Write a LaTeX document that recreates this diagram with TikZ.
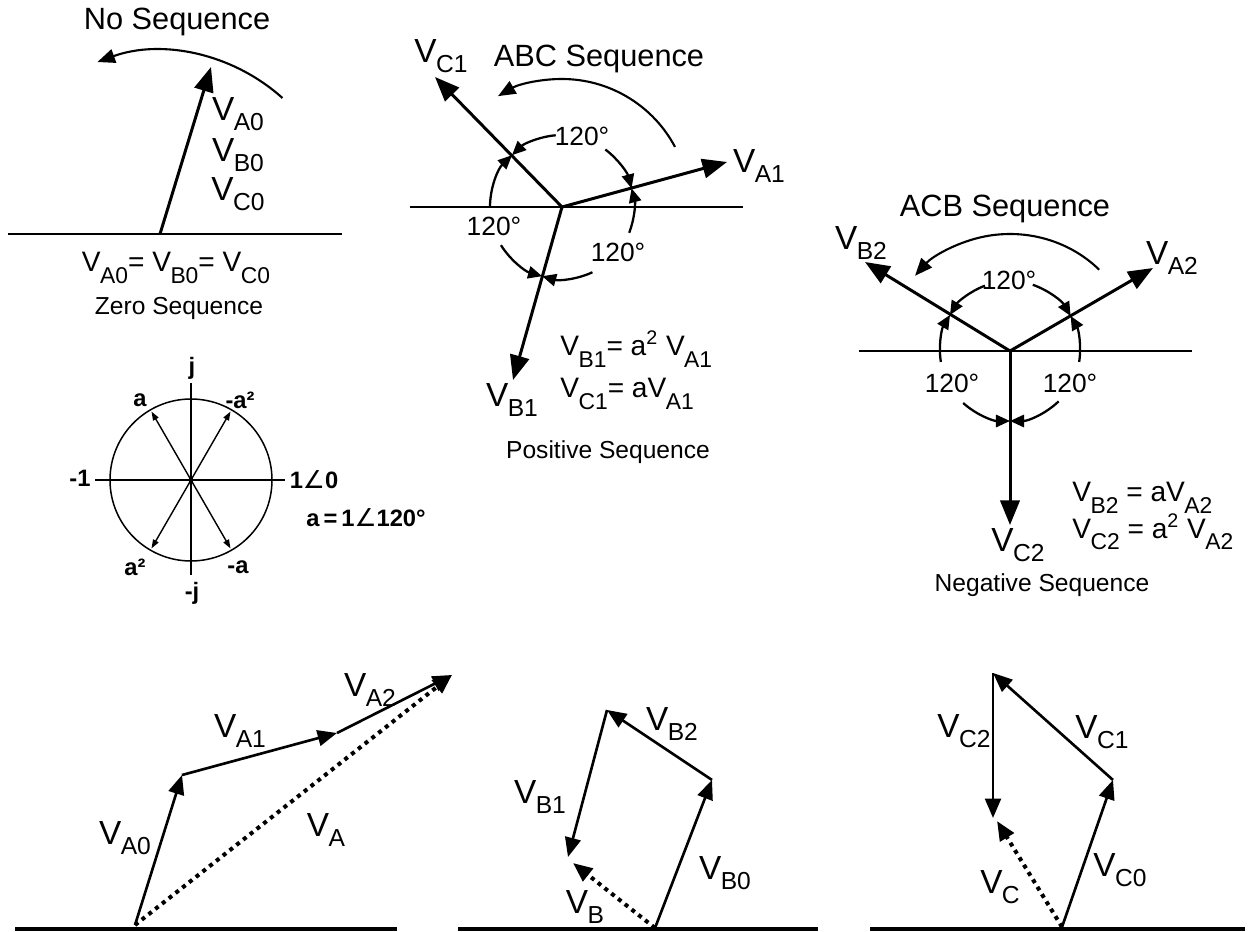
\documentclass[tikz,border=0pt]{standalone}
\usepackage{fontspec}
\setmainfont{Liberation Sans}
\newfontfamily\angfont{DejaVu Sans}
\usepackage{tikz}
\usetikzlibrary{arrows.meta}
\newcommand{\Vs}[1]{V\kern-0.3pt\raisebox{-5.5pt}{\fontsize{14}{16}\selectfont #1}}
\newcommand{\Ve}[1]{V\kern-0.3pt\raisebox{-6.5pt}{\fontsize{13}{15}\selectfont #1}}
\newcommand{\angsym}{{\angfont\mdseries\fontsize{14}{16}\selectfont ∠}}

\begin{document}
\begin{tikzpicture}[
    x=0.02cm, y=0.02cm,
    every node/.style={inner sep=0pt},
    vlbl/.style={font=\fontsize{19}{22}\selectfont},
    eqlbl/.style={font=\fontsize{16}{19}\selectfont, anchor=west},
    seqlbl/.style={font=\fontsize{17.5}{20}\selectfont},
    caplbl/.style={font=\fontsize{14}{16}\selectfont},
    deglbl/.style={font=\fontsize{15}{18}\selectfont},
    ulbl/.style={font=\bfseries\fontsize{13.5}{16}\selectfont},
    refline/.style={line width=1.3pt},
    ground/.style={line width=2.2pt},
    phasor/.style={-{Triangle[length=14pt,width=11pt]}, line width=1.7pt},
    sumvec/.style={-{Triangle[length=11pt,width=9pt]}, line width=1.5pt},
    resvec/.style={-{Triangle[length=11pt,width=9pt]}, line width=2.3pt, dash pattern=on 2.3pt off 2.6pt},
    angarc/.style={-{Triangle[length=8pt,width=7pt]}, line width=1.3pt},
    rotarc/.style={-{Triangle[length=10pt,width=8pt]}, line width=1.2pt},
    unitvec/.style={-{Triangle[length=5pt,width=3.5pt]}, line width=0.8pt},
]
\useasboundingbox (0,0) rectangle (1251,-932);

%% Zero sequence
\coordinate (zo) at (160,-234);
\coordinate (zt) at (211,-67);
\coordinate (zl) at (8,-234);
\coordinate (zr) at (342,-234);
\draw[refline] (zl) -- (zr);
\draw[phasor] (zo) -- (zt);
\draw[rotarc] (zo) ++(48:183) arc[start angle=48, end angle=110, radius=183];

\node[seqlbl] at (177,-22)  (noseq) {No Sequence};
\node[vlbl]   at (238,-114) (za0)   {\Vs{A0}};
\node[vlbl]   at (238,-155) (zb0)   {\Vs{B0}};
\node[vlbl]   at (238,-194) (zc0)   {\Vs{C0}};
\node[eqlbl, anchor=center] at (176,-268) (zeq) {\Ve{A0}= \Ve{B0}= \Ve{C0}};
\node[caplbl] at (179,-308) (zcap)  {Zero Sequence};

%% Positive sequence
\coordinate (po) at (562,-207);
\coordinate (pa) at (727,-162);
\coordinate (pb) at (513,-380);
\coordinate (pc) at (435,-77);
\coordinate (pl) at (410,-207);
\coordinate (pr) at (743,-207);
\draw[refline] (pl) -- (pr);
\draw[phasor] (po) -- (pa);
\draw[phasor] (po) -- (pb);
\draw[phasor] (po) -- (pc);
\draw[rotarc] (po) ++(28:128) arc[start angle=28, end angle=120, radius=128];
\draw[angarc] (po) ++(95:72)  arc[start angle=95,  end angle=134, radius=72];
\draw[angarc] (po) ++(53:72)  arc[start angle=53,  end angle=15,  radius=72];
\draw[angarc] (po) ++(180:72) arc[start angle=180, end angle=134, radius=72];
\draw[angarc] (po) ++(212:72) arc[start angle=212, end angle=254, radius=72];
\draw[angarc] (po) ++(-21:72) arc[start angle=-21, end angle=15,  radius=72];
\draw[angarc] (po) ++(-65:72) arc[start angle=-65, end angle=-106, radius=72];

\node[seqlbl] at (599,-59)  (abc)  {ABC Sequence};
\node[vlbl]   at (441,-56)  (pc1)  {\Vs{C1}};
\node[vlbl]   at (759,-166) (pa1)  {\Vs{A1}};
\node[vlbl]   at (512,-400) (pb1)  {\Vs{B1}};
\node[deglbl] at (582,-136) (pdt)  {120°};
\node[deglbl] at (494,-226) (pdl)  {120°};
\node[deglbl] at (618,-252) (pdr)  {120°};
\node[eqlbl]  at (560,-349) (peq1) {\Ve{B1}= a\textsuperscript{2} \Ve{A1}};
\node[eqlbl]  at (560,-394) (peq2) {\Ve{C1}= a\Ve{A1}};
\node[caplbl] at (608,-452) (pcap) {Positive Sequence};

%% Negative sequence
\coordinate (no) at (1010,-351);
\coordinate (na) at (1153,-268);
\coordinate (nb) at (865,-262);
\coordinate (nc) at (1010,-525);
\coordinate (nl) at (859,-351);
\coordinate (nr) at (1192,-351);
\draw[refline] (nl) -- (nr);
\draw[phasor] (no) -- (na);
\draw[phasor] (no) -- (nb);
\draw[phasor] (no) -- (nc);
\draw[rotarc] (no) ++(44:124 and 117) arc[start angle=44, end angle=140, x radius=124, y radius=117];
\draw[angarc] (no) ++(111:70) arc[start angle=111, end angle=149, radius=70];
\draw[angarc] (no) ++(71:70)  arc[start angle=71,  end angle=30,  radius=70];
\draw[angarc] (no) ++(189:70) arc[start angle=189, end angle=149, radius=70];
\draw[angarc] (no) ++(228:70) arc[start angle=228, end angle=270, radius=70];
\draw[angarc] (no) ++(-9:70)  arc[start angle=-9,  end angle=30,  radius=70];
\draw[angarc] (no) ++(-46:70) arc[start angle=-46, end angle=-90, radius=70];

\node[seqlbl] at (1005,-209) (acb)  {ACB Sequence};
\node[vlbl]   at (861,-243)  (nb2)  {\Vs{B2}};
\node[vlbl]   at (1172,-258) (na2)  {\Vs{A2}};
\node[vlbl]   at (1018,-545) (nc2)  {\Vs{C2}};
\node[deglbl] at (1009,-280) (ndt)  {120°};
\node[deglbl] at (952,-383)  (ndl)  {120°};
\node[deglbl] at (1070,-383) (ndr)  {120°};
\node[eqlbl]  at (1072,-498) (neq1) {\Ve{B2} = a\Ve{A2}};
\node[eqlbl]  at (1072,-532) (neq2) {\Ve{C2} = a\textsuperscript{2} \Ve{A2}};
\node[caplbl] at (1042,-585) (ncap) {Negative Sequence};

%% Operator a on the unit circle
\coordinate (uo) at (191,-480);
\coordinate (ul) at (95,-480);
\coordinate (ur) at (285,-480);
\coordinate (ut) at (191,-383);
\coordinate (ub) at (191,-575);
\draw[line width=0.85pt] (uo) circle[radius=81];
\draw[line width=0.85pt] (ul) -- (ur);
\draw[line width=0.85pt] (ut) -- (ub);
\foreach \a in {60,120,240,300}
  \draw[unitvec] (uo) -- ++(\a:79);
\fill (uo) circle[radius=2.5];

\node[ulbl] at (192,-368) (uj)   {j};
\node[ulbl] at (140,-400) (ua)   {a};
\node[ulbl] at (240,-400) (uma2) {-a²};
\node[ulbl] at (80,-478)  (um1)  {-1};
\node[ulbl] at (314,-480) (u1)   {1\angsym 0};
\node[ulbl] at (135,-567) (ua2)  {a²};
\node[ulbl] at (238,-567) (uma)  {-a};
\node[ulbl] at (192,-593) (umj)  {-j};
\node[ulbl] at (366,-518) (udef) {a\,=\,1\angsym 120°};

%% Phase A as sum of components
\coordinate (ao)  at (135,-925);
\coordinate (aa0) at (182,-775);
\coordinate (aa1) at (337,-733);
\coordinate (aa2) at (452,-675);
\draw[resvec] (ao) -- (aa2);
\draw[sumvec] (ao) -- (aa0);
\draw[sumvec] (aa0) -- (aa1);
\draw[sumvec] (aa1) -- (aa2);
\node[vlbl] at (125,-838) (la0) {\Vs{A0}};
\node[vlbl] at (240,-731) (la1) {\Vs{A1}};
\node[vlbl] at (370,-690) (la2) {\Vs{A2}};
\node[vlbl] at (326,-830) (la)  {\Vs{A}};

%% Phase B
\coordinate (bo)  at (655,-928);
\coordinate (bb0) at (712,-780);
\coordinate (bb2) at (607,-710);
\coordinate (bb1) at (568,-857);
\coordinate (bres) at (573,-863);
\draw[resvec] (bo) -- (bres);
\draw[sumvec] (bo) -- (bb0);
\draw[sumvec] (bb0) -- (bb2);
\draw[sumvec] (bb2) -- (bb1);
\node[vlbl] at (672,-724) (lb2) {\Vs{B2}};
\node[vlbl] at (540,-797) (lb1) {\Vs{B1}};
\node[vlbl] at (725,-873) (lb0) {\Vs{B0}};
\node[vlbl] at (585,-907) (lb)  {\Vs{B}};

%% Phase C
\coordinate (co)  at (1062,-927);
\coordinate (cc0) at (1113,-780);
\coordinate (cc1) at (993,-673);
\coordinate (cc2) at (993,-818);
\coordinate (cres) at (997,-821);
\draw[resvec] (co) -- (cres);
\draw[sumvec] (co) -- (cc0);
\draw[sumvec] (cc0) -- (cc1);
\draw[sumvec] (cc1) -- (cc2);
\node[vlbl] at (964,-731)  (lc2) {\Vs{C2}};
\node[vlbl] at (1102,-732) (lc1) {\Vs{C1}};
\node[vlbl] at (1120,-870) (lc0) {\Vs{C0}};
\node[vlbl] at (1000,-887) (lc)  {\Vs{C}};

%% Ground lines
\coordinate (g1l) at (15,-929);   \coordinate (g1r) at (397,-929);
\coordinate (g2l) at (458,-929);  \coordinate (g2r) at (818,-929);
\coordinate (g3l) at (870,-929);  \coordinate (g3r) at (1245,-929);
\draw[ground] (g1l) -- (g1r);
\draw[ground] (g2l) -- (g2r);
\draw[ground] (g3l) -- (g3r);

\end{tikzpicture}
\end{document}
